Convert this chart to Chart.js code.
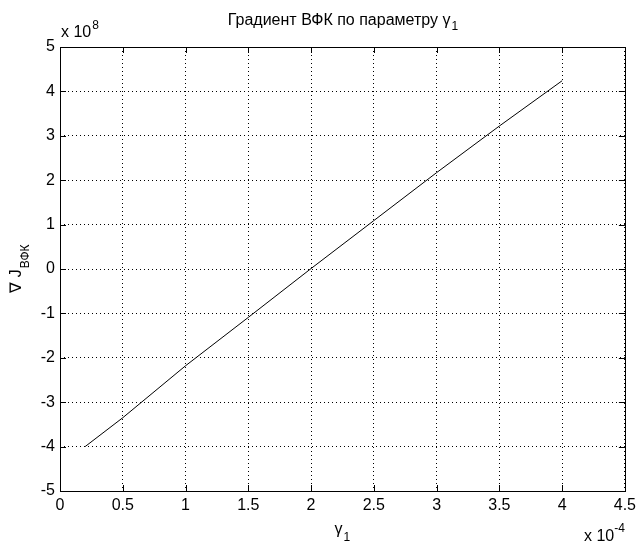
<!DOCTYPE html>
<html>
<head>
<meta charset="utf-8">
<script src="https://cdn.jsdelivr.net/npm/chart.js@4/dist/chart.umd.min.js"></script>
<style>
html,body{margin:0;padding:0;background:#fff;}
canvas{display:block;}
</style>
</head>
<body>
<canvas id="c" width="641" height="543"></canvas>
<script>
// gamma_1 values, in units of 1e-4
const gammaValues = [0.2, 0.5, 1.0, 1.5, 2.0, 2.5, 3.0, 3.5, 4.0];
// gradient of ВФК, in units of 1e8
const gradientValues = [-4.0, -3.35, -2.18, -1.09, 0.01, 1.09, 2.17, 3.22, 4.24];
const xTickValues = [0, 0.5, 1, 1.5, 2, 2.5, 3, 3.5, 4, 4.5];
const xTickLabels = ['0', '0.5', '1', '1.5', '2', '2.5', '3', '3.5', '4', '4.5'];
const yTickValues = [-5, -4, -3, -2, -1, 0, 1, 2, 3, 4, 5];
const yTickLabels = ['-5', '-4', '-3', '-2', '-1', '0', '1', '2', '3', '4', '5'];
const titleMain = 'Градиент ВФК по параметру γ';
const titleSub = '1';
const xLabelMain = 'γ';
const xLabelSub = '1';
const yLabelMain = '∇ J';
const yLabelSub = 'ВФК';
const yExponent = '8';
const xExponent = '-4';

const FONT = "'Liberation Sans', Arial, sans-serif";

const points = gammaValues.map((g, i) => ({x: g, y: gradientValues[i]}));

const decor = {
  id: 'decor',
  afterDatasetsDraw(chart) {
    const ctx = chart.ctx;
    const a = chart.chartArea;
    const xs = chart.scales.x, ys = chart.scales.y;
    ctx.save();
    ctx.strokeStyle = '#000';
    ctx.lineWidth = 1;
    // box
    ctx.strokeRect(Math.round(a.left) + 0.5, Math.round(a.top) + 0.5,
      Math.round(a.right - a.left), Math.round(a.bottom - a.top));
    // inward ticks
    const tl = 6;
    ctx.beginPath();
    xTickValues.forEach(v => {
      const px = Math.round(xs.getPixelForValue(v)) + 0.5;
      ctx.moveTo(px, a.bottom); ctx.lineTo(px, a.bottom - tl);
      ctx.moveTo(px, a.top); ctx.lineTo(px, a.top + tl);
    });
    yTickValues.forEach(v => {
      const py = Math.round(ys.getPixelForValue(v)) + 0.5;
      ctx.moveTo(a.left, py); ctx.lineTo(a.left + tl, py);
      ctx.moveTo(a.right, py); ctx.lineTo(a.right - tl, py);
    });
    ctx.stroke();

    ctx.fillStyle = '#000';
    ctx.textBaseline = 'alphabetic';
    const cx = (a.left + a.right) / 2;
    // title
    ctx.font = '16px ' + FONT;
    const tw = ctx.measureText(titleMain).width;
    ctx.font = '12px ' + FONT;
    const sw = ctx.measureText(titleSub).width;
    let sx = cx - (tw + sw) / 2;
    ctx.font = '16px ' + FONT;
    ctx.textAlign = 'left';
    ctx.fillText(titleMain, sx, 25);
    ctx.font = '12px ' + FONT;
    ctx.fillText(titleSub, sx + tw + 1, 30);

    // x label
    ctx.font = '16px ' + FONT;
    const xw = ctx.measureText(xLabelMain).width;
    ctx.fillText(xLabelMain, cx - 8, 534);
    ctx.font = '12px ' + FONT;
    ctx.fillText(xLabelSub, cx - 8 + xw + 1, 541);

    // y exponent
    ctx.font = '16px ' + FONT;
    ctx.fillText('x 10', a.left + 1, 37);
    const ew = ctx.measureText('x 10').width;
    ctx.font = '12px ' + FONT;
    ctx.fillText(yExponent, a.left + 1 + ew + 1, 29);

    // x exponent
    ctx.font = '12px ' + FONT;
    const xew = ctx.measureText(xExponent).width;
    ctx.font = '16px ' + FONT;
    const bw = ctx.measureText('x 10').width;
    const ex = a.right - xew - bw;
    ctx.fillText('x 10', ex, 541);
    ctx.font = '12px ' + FONT;
    ctx.fillText(xExponent, ex + bw, 532);

    // y label (rotated)
    ctx.translate(21, (a.top + a.bottom) / 2);
    ctx.rotate(-Math.PI / 2);
    ctx.font = '16px ' + FONT;
    const yw = ctx.measureText(yLabelMain).width;
    ctx.font = '12px ' + FONT;
    const ysw = ctx.measureText(yLabelSub).width;
    const y0 = -(yw + ysw) / 2;
    ctx.font = '16px ' + FONT;
    ctx.fillText(yLabelMain, y0, 0);
    ctx.font = '12px ' + FONT;
    ctx.fillText(yLabelSub, y0 + yw + 1, 8);
    ctx.restore();
  }
};

new Chart(document.getElementById('c'), {
  type: 'scatter',
  data: {
    datasets: [{
      data: points,
      showLine: true,
      borderColor: '#000',
      borderWidth: 1,
      pointRadius: 0,
      tension: 0,
      fill: false
    }]
  },
  options: {
    responsive: false,
    animation: false,
    devicePixelRatio: 1,
    layout: {padding: {left: 0, top: 47, right: 14, bottom: 0}},
    plugins: {legend: {display: false}, title: {display: false}, tooltip: {enabled: false}},
    scales: {
      x: {
        type: 'linear',
        min: 0, max: 4.5,
        afterBuildTicks: s => { s.ticks = xTickValues.map(v => ({value: v})); },
        afterFit: s => { s.height = 52; },
        ticks: {
          color: '#000',
          font: {family: FONT, size: 16},
          padding: 5,
          maxRotation: 0,
          autoSkip: false,
          callback: v => xTickLabels[xTickValues.indexOf(v)]
        },
        grid: {color: '#000', lineWidth: 1, drawTicks: false},
        border: {display: false, dash: [1, 3]}
      },
      y: {
        type: 'linear',
        min: -5, max: 5,
        afterBuildTicks: s => { s.ticks = yTickValues.map(v => ({value: v})); },
        afterFit: s => { s.width = 60; },
        ticks: {
          color: '#000',
          font: {family: FONT, size: 16},
          padding: 5,
          autoSkip: false,
          callback: v => yTickLabels[yTickValues.indexOf(v)]
        },
        grid: {color: '#000', lineWidth: 1, drawTicks: false},
        border: {display: false, dash: [1, 3]}
      }
    }
  },
  plugins: [decor]
});
</script>
</body>
</html>
